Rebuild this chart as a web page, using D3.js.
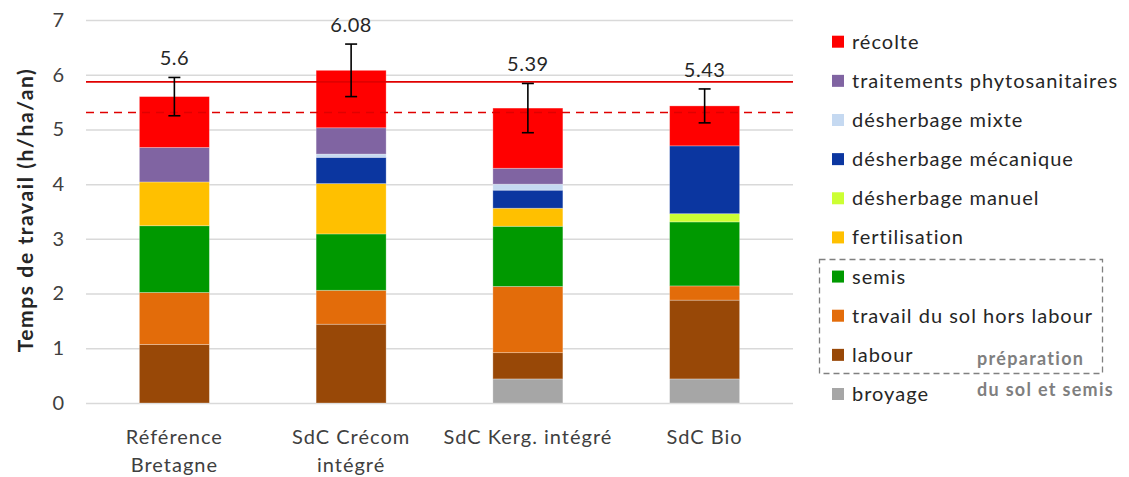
<!DOCTYPE html>
<html>
<head>
<meta charset="utf-8">
<script src="https://cdn.jsdelivr.net/npm/d3@7"></script>
<style>
  html, body { margin: 0; padding: 0; background: #fff; }
  svg { display: block; font-family: Lato, "Open Sans", sans-serif; }
</style>
</head>
<body>
<svg id="chart" width="1129" height="477"></svg>
<script>
// ---- data ----
const categories = [["Référence", "Bretagne"], ["SdC Crécom", "intégré"], ["SdC Kerg. intégré"], ["SdC Bio"]];
const seriesNames = ["broyage", "labour", "travail du sol hors labour", "semis", "fertilisation",
  "désherbage manuel", "désherbage mécanique", "désherbage mixte", "traitements phytosanitaires", "récolte"];
const broyage      = [0, 0, 0.44, 0.44];
const labour       = [1.07, 1.44, 0.48, 1.44];
const travailSol   = [0.95, 0.62, 1.21, 0.26];
const semis        = [1.22, 1.03, 1.10, 1.17];
const fertilisation= [0.80, 0.92, 0.33, 0];
const desManuel    = [0, 0, 0, 0.15];
const desMecanique = [0, 0.48, 0.33, 1.24];
const desMixte     = [0, 0.06, 0.11, 0];
const traitements  = [0.63, 0.48, 0.29, 0];
const recolte      = [0.93, 1.05, 1.10, 0.73];
const totals       = [5.6, 6.08, 5.39, 5.43];
const totalLabels  = ["5.6", "6.08", "5.39", "5.43"];
const errors       = [0.35, 0.48, 0.45, 0.31];
const refSolid     = 5.87;
const refDashed    = 5.31;
const yTicks       = [0, 1, 2, 3, 4, 5, 6, 7];
const legendOrder  = ["récolte", "traitements phytosanitaires", "désherbage mixte", "désherbage mécanique",
  "désherbage manuel", "fertilisation", "semis", "travail du sol hors labour", "labour", "broyage"];
const boxNote      = ["préparation", "du sol et semis"];
const yTitle       = "Temps de travail (h/ha/an)";

const seriesValues = [broyage, labour, travailSol, semis, fertilisation, desManuel, desMecanique, desMixte, traitements, recolte];
const colors = {
  "broyage": "#A6A6A6", "labour": "#984807", "travail du sol hors labour": "#E36C0A", "semis": "#009900",
  "fertilisation": "#FFC000", "désherbage manuel": "#CCFF33", "désherbage mécanique": "#0B36A0",
  "désherbage mixte": "#C5D9F1", "traitements phytosanitaires": "#8064A2", "récolte": "#FF0000"
};

// ---- build ----
const svg = d3.select("#chart");
const plotL = 86, plotR = 793, plotT = 20, plotB = 403;
const idx = d3.range(categories.length);
const x = d3.scaleBand().domain(idx).range([plotL, plotR]).paddingInner(0.604).paddingOuter(0.302);
const y = d3.scaleLinear().domain([0, 7]).range([plotB, plotT]);

// grid + ticks
const yAxis = d3.axisLeft(y).tickValues(yTicks).tickFormat(d3.format("d"))
  .tickSize(-(plotR - plotL)).tickPadding(22);
const ga = svg.append("g").attr("transform", `translate(${plotL},0)`).call(yAxis);
ga.select(".domain").remove();
ga.selectAll(".tick line").attr("stroke", "#D9D9D9").attr("stroke-width", 1.5);
ga.selectAll(".tick text").attr("fill", "#404040").style("font-size", "20px").style("font-family", "Lato, sans-serif");

// stacked data
const table = idx.map(i => {
  const o = { i };
  seriesNames.forEach((s, k) => o[s] = seriesValues[k][i]);
  return o;
});
const stack = d3.stack().keys(seriesNames)(table);

svg.append("g").selectAll("g").data(stack).join("g")
  .attr("fill", d => colors[d.key])
  .selectAll("rect").data(d => d.filter(p => p[1] - p[0] > 0)).join("rect")
  .attr("x", d => x(d.data.i))
  .attr("width", x.bandwidth())
  .attr("y", d => y(d[1]))
  .attr("height", d => y(d[0]) - y(d[1]))
  .attr("stroke", "rgba(255,255,255,0.35)")
  .attr("stroke-width", 0.8);

// reference lines
svg.append("line").attr("x1", plotL).attr("x2", plotR).attr("y1", y(refSolid)).attr("y2", y(refSolid))
  .attr("stroke", "#E00000").attr("stroke-width", 1.6);
svg.append("line").attr("x1", plotL).attr("x2", plotR).attr("y1", y(refDashed)).attr("y2", y(refDashed))
  .attr("stroke", "#E00000").attr("stroke-width", 1.6).attr("stroke-dasharray", "8,6");

// error bars
const eb = svg.append("g").attr("stroke", "#000").attr("stroke-width", 1.6);
idx.forEach(i => {
  const cx = x(i) + x.bandwidth() / 2;
  const t = y(totals[i] + errors[i]), b = y(totals[i] - errors[i]);
  eb.append("line").attr("x1", cx).attr("x2", cx).attr("y1", t).attr("y2", b);
  eb.append("line").attr("x1", cx - 6).attr("x2", cx + 6).attr("y1", t).attr("y2", t);
  eb.append("line").attr("x1", cx - 6).attr("x2", cx + 6).attr("y1", b).attr("y2", b);
});

// total labels
svg.append("g").selectAll("text").data(idx).join("text")
  .attr("x", i => x(i) + x.bandwidth() / 2)
  .attr("y", i => y(totals[i] + errors[i]) - 12)
  .attr("text-anchor", "middle").attr("fill", "#262626").style("font-size", "20px").style("letter-spacing", "0.5px")
  .text(i => totalLabels[i]);

// category labels
const cl = svg.append("g").selectAll("text").data(idx).join("text")
  .attr("y", 444)
  .attr("text-anchor", "middle").attr("fill", "#404040").style("font-size", "20px").style("letter-spacing", "1px");
cl.each(function(i) {
  const t = d3.select(this);
  categories[i].forEach((line, k) => {
    t.append("tspan").attr("x", x(i) + x.bandwidth() / 2).attr("dy", k === 0 ? 0 : 28).text(line);
  });
});

// y title
svg.append("text").attr("transform", "translate(33,210) rotate(-90)")
  .attr("text-anchor", "middle").attr("fill", "#262626").style("font-size", "21px").style("font-weight", "bold")
  .style("letter-spacing", "1.6px")
  .text(yTitle);

// legend
const lg = svg.append("g");
const legY = d3.scalePoint().domain(legendOrder).range([41.7, 394]);
legendOrder.forEach(name => {
  const cy = legY(name);
  lg.append("rect").attr("x", 832).attr("y", cy - 6).attr("width", 12).attr("height", 12).attr("fill", colors[name]);
  lg.append("text").attr("x", 852).attr("y", cy + 7).attr("fill", "#262626").style("font-size", "20px")
    .style("letter-spacing", "1px").text(name);
});
// dashed box
lg.append("rect").attr("x", 819.5).attr("y", 259.5).attr("width", 283).attr("height", 114)
  .attr("fill", "none").attr("stroke", "#808080").attr("stroke-width", 1.3).attr("stroke-dasharray", "6,4");
lg.selectAll("text.note").data(boxNote).join("text").attr("class", "note")
  .attr("x", 977).attr("y", (d, k) => 365 + k * 31)
  .attr("fill", "#7F7F7F").style("font-size", "18px").style("font-weight", "bold").style("letter-spacing", "1.3px")
  .text(d => d);
</script>
</body>
</html>
